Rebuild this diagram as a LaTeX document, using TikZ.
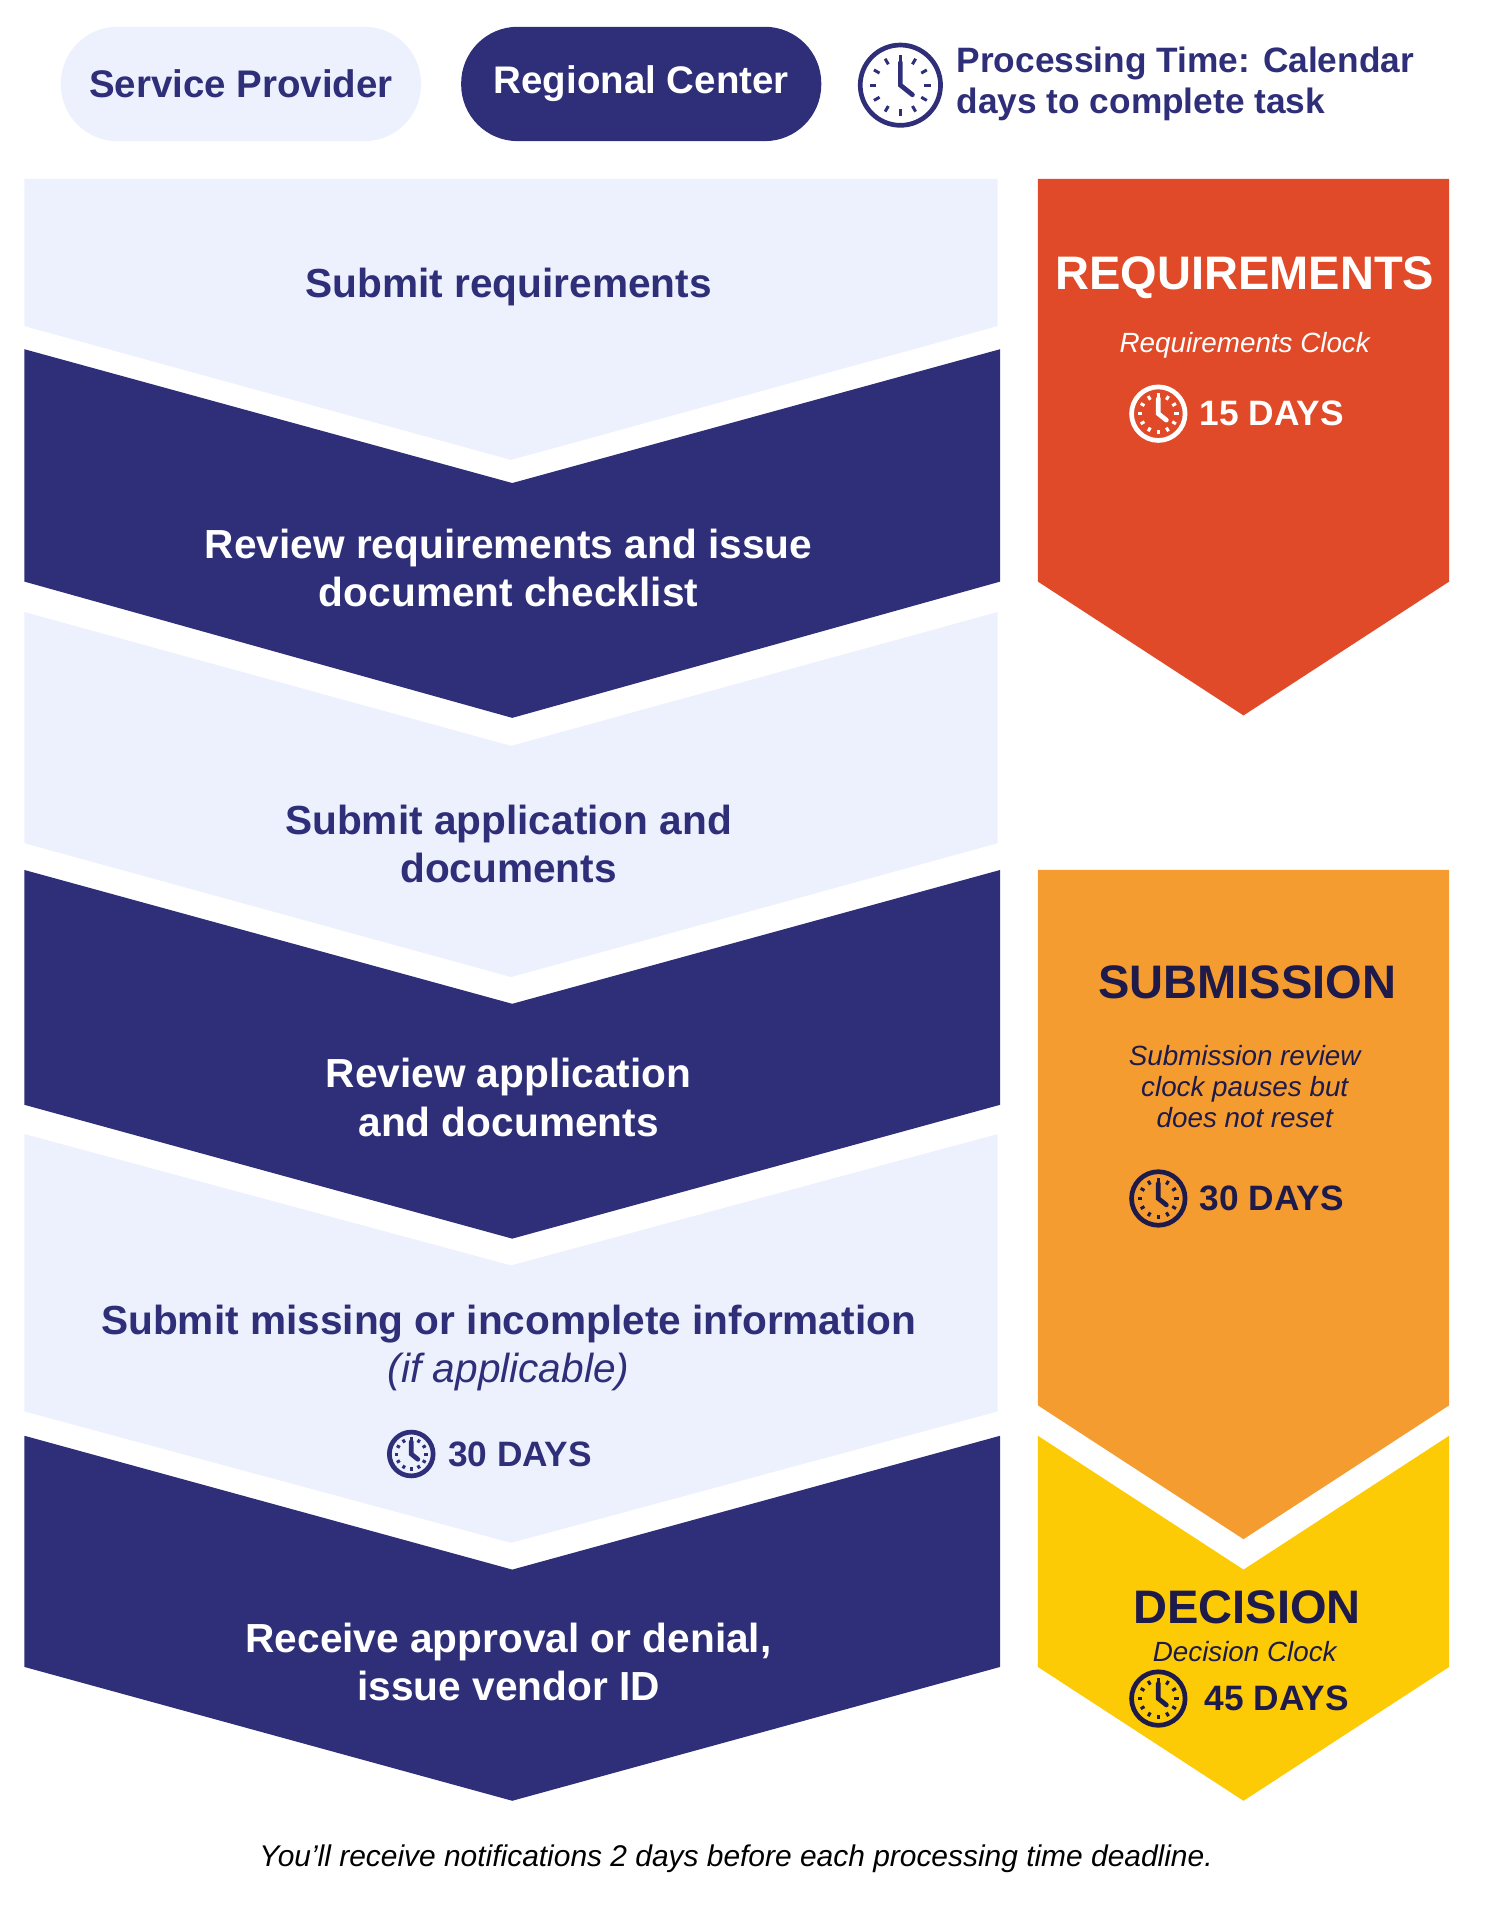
\documentclass[tikz,border=0pt]{standalone}
\usepackage{fontspec}
\setmainfont{Liberation Sans}
\definecolor{navy}{HTML}{2F2F79}
\definecolor{pale}{HTML}{EDF1FD}
\definecolor{reqred}{HTML}{E04A28}
\definecolor{suborange}{HTML}{F59C30}
\definecolor{decyellow}{HTML}{FCCB05}
\definecolor{inkdark}{HTML}{1E1A4A}
% chevron band: fill, left x, right x, top side y, top tip y, bottom side y, bottom tip y
\newcommand{\chevband}[7]{%
  \fill[#1] (#2,#4) -- ({(#2+#3)/2},#5) -- (#3,#4) -- (#3,#6) -- ({(#2+#3)/2},#7) -- (#2,#6) -- cycle;}
\tikzset{
  pill/.style={rounded corners=0.93cm, minimum width=296*0.02cm, minimum height=94*0.02cm, font=\bfseries\fontsize{18}{20}\selectfont},
  stepbox/.style={align=center, font=\bfseries\fontsize{19}{22.5}\selectfont},
  clocktitle/.style={align=center, font=\bfseries\fontsize{22}{24}\selectfont},
  clocknote/.style={align=center, font=\itshape\fontsize{13}{14.5}\selectfont},
  days/.style={font=\bfseries\fontsize{16.5}{18}\selectfont, anchor=west},
  pics/clock/.style={code={
    \draw[#1, line width=2.2pt] (0,0) circle (50);
    \foreach \a in {0,30,...,330} \draw[#1, line width=1.4pt] (\a:30) -- (\a:38);
    \draw[#1, line width=2.2pt, line cap=round] (0,-28) -- (0,0) -- (15,12);
  }},
}
\begin{document}
\begin{tikzpicture}[x=0.02cm, y=-0.02cm]
\useasboundingbox (0,0) rectangle (1220,1578);

% legend
\node[pill, fill=pale, text=navy] (prov) at (198,69) {Service Provider};
\node[pill, fill=navy, text=white] (rc) at (527,69) {Regional Center};
\pic[scale=0.66] at (740,70) {clock=navy};
\node[anchor=west, align=left, text=navy, font=\bfseries\fontsize{16.5}{19}\selectfont] (legend) at (780,69) {Processing Time: Calendar\\days to complete task};

% left steps
\chevband{pale}{20}{820}{147}{147}{268}{378}
\chevband{navy}{20}{822}{287}{397}{478}{590}
\chevband{pale}{20}{820}{503}{613}{693}{803}
\chevband{navy}{20}{822}{715}{825}{908}{1018}
\chevband{pale}{20}{820}{932}{1040}{1160}{1268}
\chevband{navy}{20}{822}{1180}{1290}{1370}{1480}

\node[stepbox, text=navy] (s1) at (418,236) {Submit requirements};
\node[stepbox, text=white] (s2) at (418,467) {Review requirements and issue\\document checklist};
\node[stepbox, text=navy] (s3) at (418,694) {Submit application and\\documents};
\node[stepbox, text=white] (s4) at (418,902) {Review application\\and documents};
\node[stepbox, text=navy] (s5) at (418,1108) {Submit missing or incomplete information\\{\mdseries\itshape (if applicable)}};
\pic[scale=0.36] at (338,1195) {clock=navy};
\node[days, text=navy] (d5) at (362,1195) {30 DAYS};
\node[stepbox, text=white] (s6) at (418,1366) {Receive approval or denial,\\issue vendor ID};

% right clocks
\chevband{reqred}{853}{1191}{147}{147}{478}{588}
\chevband{suborange}{853}{1191}{715}{715}{1155}{1265}
\chevband{decyellow}{853}{1191}{1180}{1290}{1370}{1480}

\node[clocktitle, text=white] (req) at (1023,228) {REQUIREMENTS};
\node[clocknote, text=white] (reqn) at (1023,284) {Requirements Clock};
\pic[scale=0.44] at (952,340) {clock=white};
\node[days, text=white] (reqd) at (980,340) {15 DAYS};

\node[clocktitle, text=inkdark] (sub) at (1025,807) {SUBMISSION};
\node[clocknote, text=inkdark] (subn) at (1023,893) {Submission review\\clock pauses but\\does not reset};
\pic[scale=0.44] at (952,985) {clock=inkdark};
\node[days, text=inkdark] (subd) at (980,985) {30 DAYS};

\node[clocktitle, text=inkdark] (dec) at (1025,1321) {DECISION};
\node[clocknote, text=inkdark] (decn) at (1023,1357) {Decision Clock};
\pic[scale=0.44] at (952,1396) {clock=inkdark};
\node[days, text=inkdark] (decd) at (984,1396) {45 DAYS};

% footer
\node[font=\itshape\fontsize{14}{16}\selectfont] (foot) at (605,1528) {You’ll receive notifications 2 days before each processing time deadline.};
\end{tikzpicture}
\end{document}
